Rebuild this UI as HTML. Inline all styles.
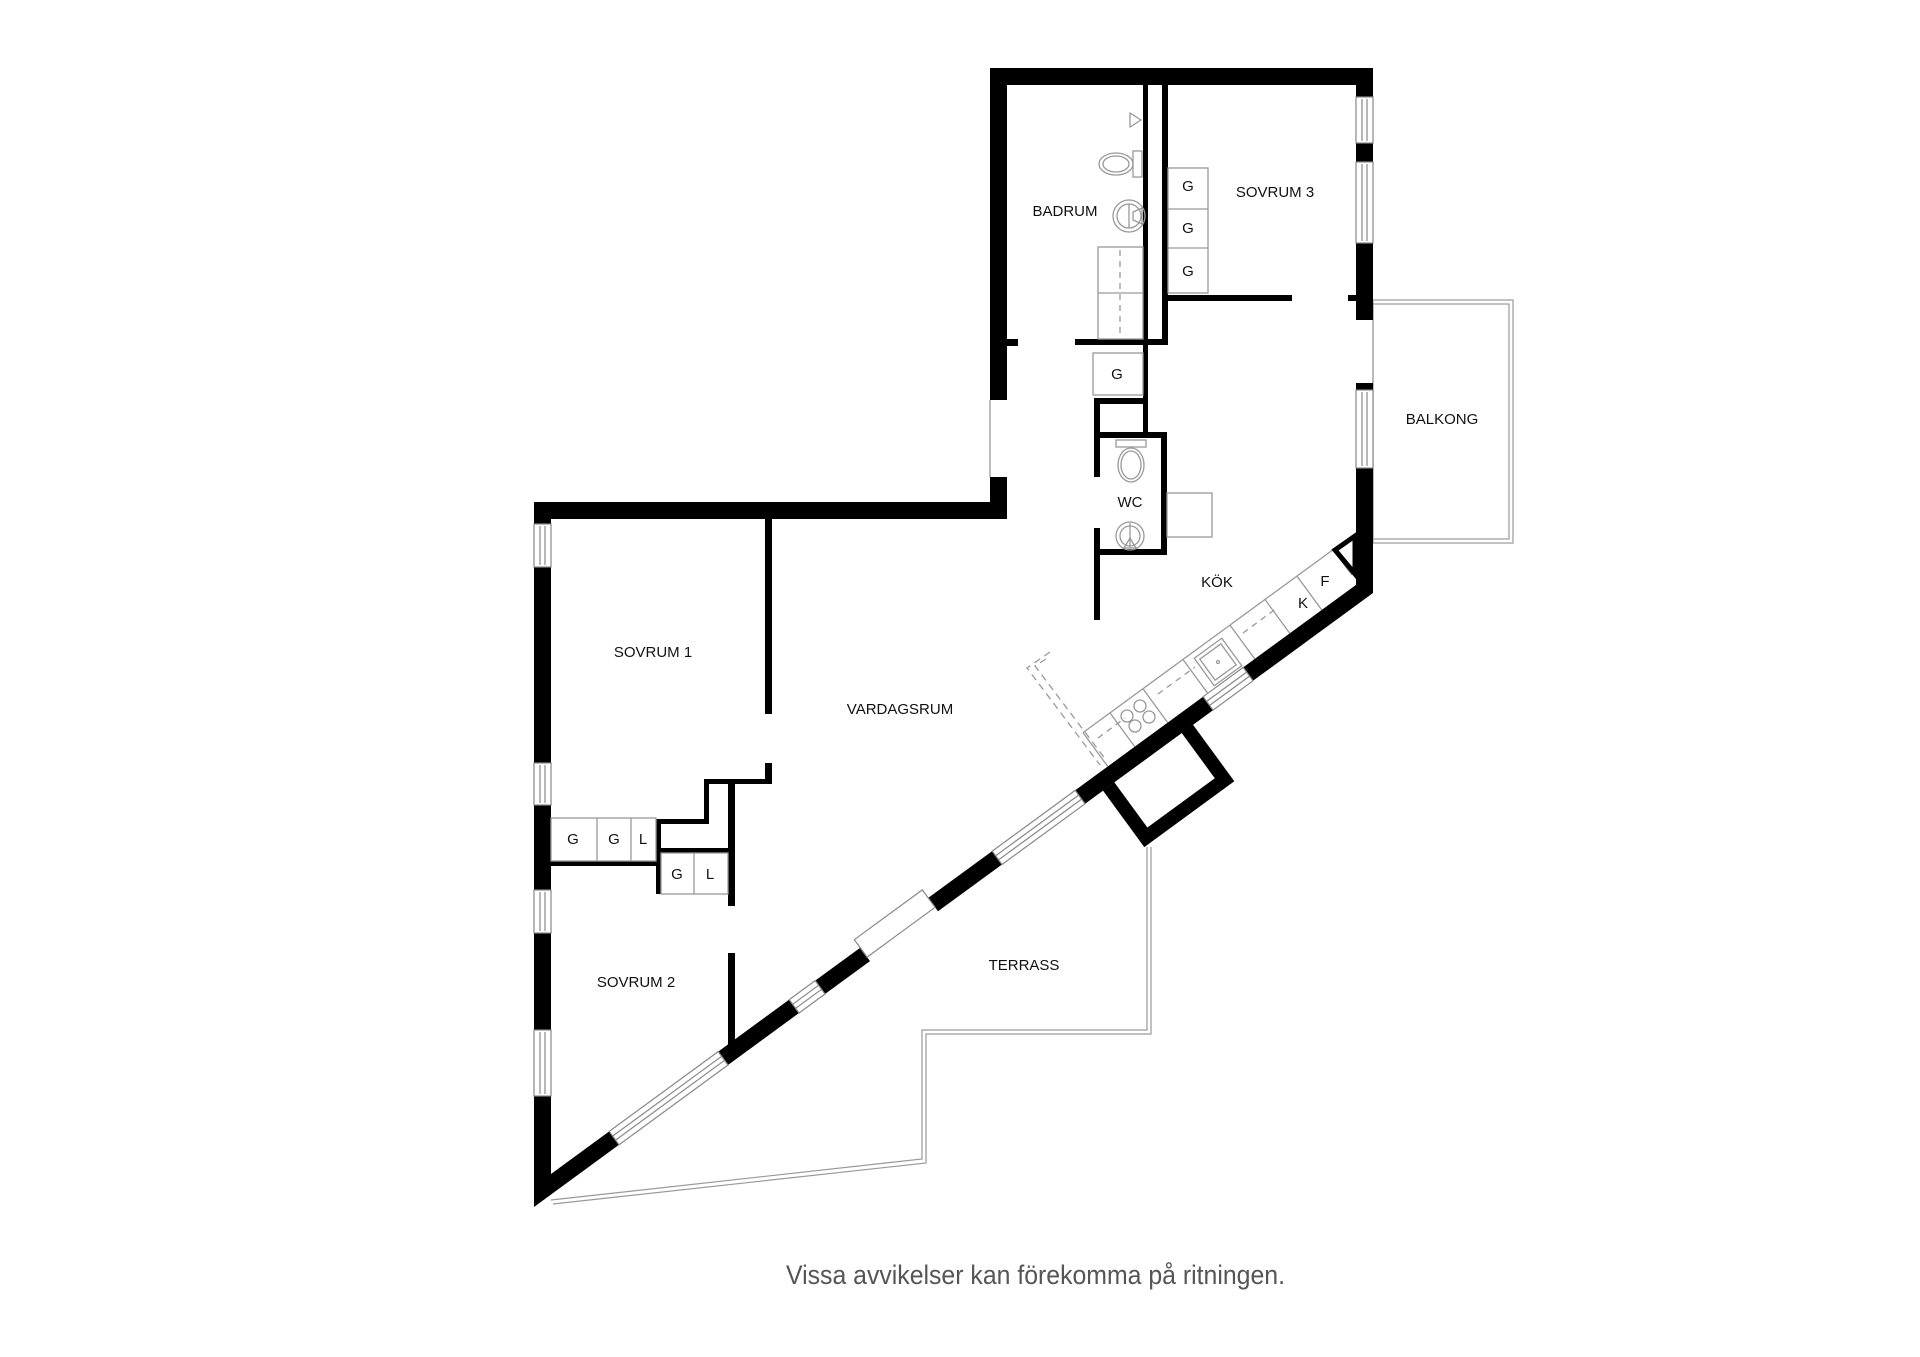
<!DOCTYPE html>
<html><head><meta charset="utf-8"><style>
html,body{margin:0;padding:0;background:#fff;}
svg{display:block}
text{font-family:"Liberation Sans",sans-serif;fill:#111;font-size:15px;text-anchor:middle;dominant-baseline:middle}
</style></head><body>
<svg width="1920" height="1357" viewBox="0 0 1920 1357" xmlns="http://www.w3.org/2000/svg">
<rect width="1920" height="1357" fill="#fff"/>
<g fill="none" stroke="#999" stroke-width="1.2">
<rect x="1373" y="300" width="140" height="243"/>
<rect x="1373" y="304" width="136" height="235"/>
<polyline points="1147,847 1147,1030 922,1030 922,1159 551,1200"/>
<polyline points="1151,847 1151,1034 926,1034 926,1163 553,1204"/>
</g>
<g fill="#000">
<rect x="990" y="68" width="383" height="17"/>
<rect x="990" y="68" width="17" height="332"/>
<rect x="1007" y="339" width="11" height="7"/>
<rect x="990" y="477" width="17" height="42"/>
<rect x="1143" y="85" width="5" height="260"/>
<rect x="1162" y="85" width="6" height="260"/>
<rect x="1075" y="339" width="93" height="6"/>
<rect x="1168" y="295" width="124" height="6"/>
<rect x="1348" y="295" width="12" height="6"/>
<rect x="1356" y="85" width="17" height="12"/>
<rect x="1356" y="143" width="17" height="19"/>
<rect x="1356" y="243" width="17" height="77"/>
<rect x="1356" y="383" width="17" height="7"/>
<rect x="1356" y="468" width="17" height="125"/>
<rect x="1143" y="345" width="5" height="87"/>
<rect x="1094" y="398" width="54" height="6"/>
<rect x="1094" y="398" width="6" height="79"/>
<rect x="1100" y="432" width="67" height="6"/>
<rect x="1161" y="432" width="6" height="123"/>
<rect x="1099" y="549" width="68" height="6"/>
<rect x="1094" y="528" width="6" height="92"/>
<rect x="534" y="502" width="473" height="17"/>
<rect x="534" y="502" width="17" height="22"/>
<rect x="534" y="567" width="17" height="196"/>
<rect x="534" y="805" width="17" height="85"/>
<rect x="534" y="933" width="17" height="97"/>
<rect x="534" y="1096" width="17" height="85"/>
<rect x="765" y="519" width="7" height="195"/>
<rect x="765" y="763" width="7" height="21"/>
<rect x="704" y="779" width="68" height="5"/>
<rect x="704" y="779" width="5" height="45"/>
<rect x="656" y="819" width="53" height="5"/>
<rect x="656" y="819" width="5" height="75"/>
<rect x="728" y="784" width="7" height="122"/>
<rect x="656" y="848" width="75" height="5"/>
<rect x="551" y="861" width="110" height="5"/>
<rect x="728" y="953" width="7" height="97"/>
<polygon points="1373,593 1253,680.8 1243.2,667.4 1363.2,579.6 1356,579 1373,579"/>
<polygon points="1213,710.1 1085,803.8 1075.2,790.4 1203.2,696.7"/>
<polygon points="1002,864.5 938,911.3 928.2,897.9 992.2,851.1"/>
<polygon points="870,961.1 825,994 815.2,980.6 860.2,947.7"/>
<polygon points="799,1013 728,1065 718.2,1051.6 789.2,999.6"/>
<polygon points="619,1144.8 534,1207 534,1174 551,1174 609.2,1131.4"/>
<polygon points="1103,790.6 1193,724.7 1234.3,781.2 1144.3,847.1"/>
<polygon points="1114.3,782.3 1181.7,733 1214.8,778.2 1147.4,827.5" fill="#fff"/>
<polygon points="1085,803.8 1213,710.1 1203.2,696.7 1075.2,790.4"/>
</g>
<g fill="#fff" stroke="#888" stroke-width="1.2">
<rect x="1356" y="97" width="17" height="46"/><line x1="1362" y1="99" x2="1362" y2="141"/><line x1="1367" y1="99" x2="1367" y2="141"/>
<rect x="1356" y="162" width="17" height="81"/><line x1="1362" y1="164" x2="1362" y2="241"/><line x1="1367" y1="164" x2="1367" y2="241"/>
<rect x="1356" y="390" width="17" height="78"/><line x1="1362" y1="392" x2="1362" y2="466"/><line x1="1367" y1="392" x2="1367" y2="466"/>
<rect x="534" y="524" width="17" height="43"/><line x1="540" y1="526" x2="540" y2="565"/><line x1="545" y1="526" x2="545" y2="565"/>
<rect x="534" y="763" width="17" height="42"/><line x1="540" y1="765" x2="540" y2="803"/><line x1="545" y1="765" x2="545" y2="803"/>
<rect x="534" y="890" width="17" height="43"/><line x1="540" y1="892" x2="540" y2="931"/><line x1="545" y1="892" x2="545" y2="931"/>
<rect x="534" y="1030" width="17" height="66"/><line x1="540" y1="1032" x2="540" y2="1094"/><line x1="545" y1="1032" x2="545" y2="1094"/>
<polygon points="1253,680.8 1213,710.1 1203.2,696.7 1243.2,667.4"/>
<line x1="1249.6" y1="676.1" x2="1209.6" y2="705.4"/><line x1="1246.6" y1="672.1" x2="1206.6" y2="701.4"/>
<polygon points="1085,803.8 1002,864.5 992.2,851.1 1075.2,790.4"/>
<line x1="1081.6" y1="799.1" x2="998.6" y2="859.8"/><line x1="1078.6" y1="795.1" x2="995.6" y2="855.8"/>
<polygon points="825,994 799,1013 789.2,999.6 815.2,980.6"/>
<line x1="821.6" y1="989.3" x2="795.6" y2="1008.3"/><line x1="818.6" y1="985.3" x2="792.6" y2="1004.3"/>
<polygon points="728,1065 619,1144.8 609.2,1131.4 718.2,1051.6"/>
<line x1="724.6" y1="1060.3" x2="615.6" y2="1140.1"/><line x1="721.6" y1="1056.3" x2="612.6" y2="1136.1"/>
<polygon points="867.1,957.1 935.1,907.3 922.3,889.9 854.3,939.7"/>
</g>
<g fill="none" stroke="#999" stroke-width="1.3">
<line x1="990" y1="400" x2="990" y2="477"/>
<rect x="1098" y="247" width="45" height="92"/><line x1="1098" y1="293" x2="1143" y2="293"/>
<line x1="1120" y1="250" x2="1120" y2="337" stroke-dasharray="6,5"/>
<rect x="1168" y="168" width="40" height="125"/><line x1="1168" y1="209" x2="1208" y2="209"/><line x1="1168" y1="248" x2="1208" y2="248"/>
<rect x="1093" y="353" width="50" height="42"/>
<polygon points="1130,113 1130,127 1141,120"/>
<rect x="1133" y="151" width="9" height="26"/><ellipse cx="1116" cy="164" rx="17" ry="11"/><ellipse cx="1116" cy="164" rx="13" ry="8"/>
<circle cx="1129" cy="216" r="16"/><circle cx="1129" cy="216" r="12"/><line x1="1129" y1="204" x2="1129" y2="228"/><polygon points="1133,212 1142,208 1142,224 1133,220"/>
<rect x="1116" y="440" width="30" height="7"/><ellipse cx="1131" cy="465" rx="13" ry="17"/><ellipse cx="1131" cy="465" rx="10" ry="14"/>
<circle cx="1130" cy="536" r="14"/><circle cx="1130" cy="536" r="10"/><line x1="1130" y1="523" x2="1130" y2="548"/><polygon points="1124,548 1130,538 1136,548"/>
<rect x="1167" y="493" width="45" height="44"/>
<rect x="551" y="818" width="105" height="43"/><line x1="597" y1="818" x2="597" y2="861"/><line x1="631" y1="818" x2="631" y2="861"/>
<rect x="661" y="853" width="67" height="41"/><line x1="694" y1="853" x2="694" y2="894"/>
<line x1="1083" y1="732.6" x2="1340" y2="544.6"/>
<line x1="1083" y1="732.6" x2="1107.8" y2="766.5"/><line x1="1110" y1="712.9" x2="1134.8" y2="746.8"/>
<line x1="1143" y1="688.8" x2="1167.8" y2="722.7"/><line x1="1183" y1="659.5" x2="1207.8" y2="693.4"/>
<line x1="1230" y1="625.1" x2="1254.8" y2="659"/><line x1="1265" y1="599.5" x2="1289.8" y2="633.4"/>
<line x1="1297" y1="576.1" x2="1321.8" y2="610"/><line x1="1333" y1="549.7" x2="1352" y2="575"/>
<line x1="1098" y1="738" x2="1125" y2="718" stroke-dasharray="6,5"/>
<line x1="1158" y1="694" x2="1195" y2="667" stroke-dasharray="6,5"/>
<line x1="1243" y1="633" x2="1277" y2="608" stroke-dasharray="6,5"/>
<g transform="translate(1218,662) rotate(-36)"><rect x="-17" y="-17" width="34" height="34"/><rect x="-13" y="-13" width="26" height="26"/><circle cx="0" cy="0" r="1.5"/></g>
<circle cx="1127" cy="716" r="6"/><circle cx="1140" cy="706" r="6"/><circle cx="1135" cy="726" r="6"/><circle cx="1149" cy="717" r="6"/>
<polyline points="1050,652 1027,668 1100,765" stroke-dasharray="7,5"/>
<polyline points="1046,659 1035,666 1106,760" stroke-dasharray="7,5"/>
</g>
<polygon points="1335,550 1355,536 1355,574" fill="none" stroke="#000" stroke-width="5"/>
<text x="1065" y="212">BADRUM</text>
<text x="1275" y="193">SOVRUM 3</text>
<text x="1442" y="420">BALKONG</text>
<text x="1130" y="503">WC</text>
<text x="1217" y="583">KÖK</text>
<text x="1303" y="604">K</text>
<text x="1325" y="582">F</text>
<text x="1188" y="187">G</text><text x="1188" y="229">G</text><text x="1188" y="272">G</text>
<text x="1117" y="375">G</text>
<text x="653" y="653">SOVRUM 1</text>
<text x="900" y="710">VARDAGSRUM</text>
<text x="636" y="983">SOVRUM 2</text>
<text x="1024" y="966">TERRASS</text>
<text x="573" y="840">G</text><text x="614" y="840">G</text><text x="643" y="840">L</text>
<text x="677" y="875">G</text><text x="710" y="875">L</text>
<text x="1035.5" y="1277" style="font-size:27px;fill:#555" textLength="499" lengthAdjust="spacingAndGlyphs">Vissa avvikelser kan förekomma på ritningen.</text>
</svg>
</body></html>
